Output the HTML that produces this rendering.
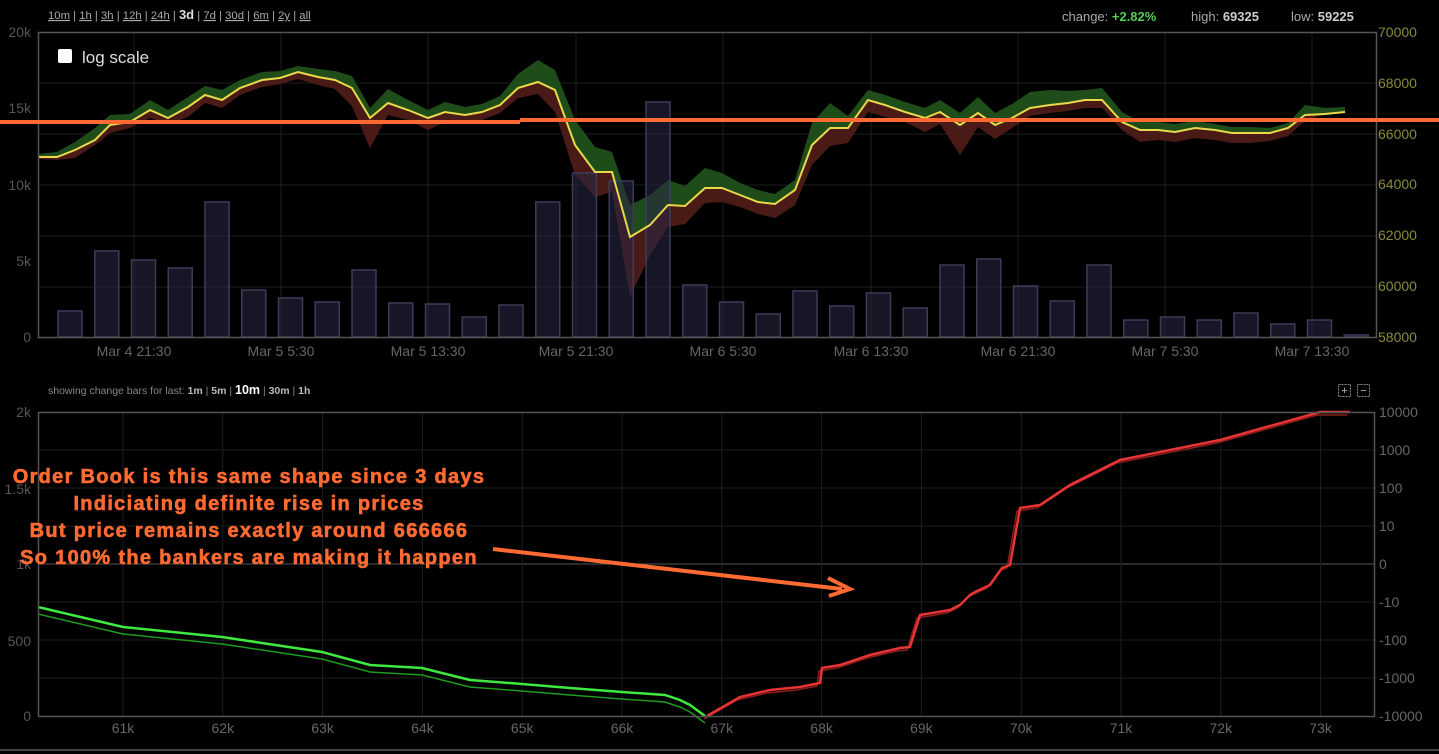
<!DOCTYPE html>
<html><head><meta charset="utf-8"><style>
html,body{margin:0;padding:0;background:#000;width:1439px;height:754px;overflow:hidden;font-family:"Liberation Sans",Arial,sans-serif}
svg{position:absolute;left:0;top:0}
text{font-family:"Liberation Sans",Arial,sans-serif}
</style></head><body>
<svg id="s" width="1439" height="754" xmlns="http://www.w3.org/2000/svg">
<rect width="1439" height="754" fill="#000"/>
<g id="grid" stroke="#1e1e1e" stroke-width="1"></g>
<g id="topg"></g>
<g id="botg"></g>
<rect x="38.5" y="32.5" width="1338" height="305" fill="none" stroke="#555" stroke-width="1.5"/>
<rect x="38.5" y="412.5" width="1336" height="304" fill="none" stroke="#555" stroke-width="1.5"/>
<line x1="0" y1="750" x2="1439" y2="750" stroke="#444" stroke-width="2"/>
<text x="48" y="19" font-size="11.3" fill="#aaa" xml:space="preserve"><tspan text-decoration="underline">10m</tspan> | <tspan text-decoration="underline">1h</tspan> | <tspan text-decoration="underline">3h</tspan> | <tspan text-decoration="underline">12h</tspan> | <tspan text-decoration="underline">24h</tspan> | <tspan fill="#ddd" font-weight="bold" font-size="13">3d</tspan> | <tspan text-decoration="underline">7d</tspan> | <tspan text-decoration="underline">30d</tspan> | <tspan text-decoration="underline">6m</tspan> | <tspan text-decoration="underline">2y</tspan> | <tspan text-decoration="underline">all</tspan></text>
<text x="1062" y="21" font-size="13" fill="#aaa">change: <tspan fill="#5c5" font-weight="bold">+2.82%</tspan></text>
<text x="1191" y="21" font-size="13" fill="#aaa">high: <tspan fill="#ccc" font-weight="bold">69325</tspan></text>
<text x="1291" y="21" font-size="13" fill="#aaa">low: <tspan fill="#ccc" font-weight="bold">59225</tspan></text>
<rect x="58" y="49" width="14" height="14" rx="2" fill="#fff"/>
<text x="82" y="63" font-size="17" fill="#ddd">log scale</text>
<g font-size="14" fill="#555" text-anchor="end">
<text x="31" y="37">20k</text><text x="31" y="113">15k</text><text x="31" y="190">10k</text><text x="31" y="266">5k</text><text x="31" y="342">0</text>
</g>
<g font-size="14" fill="#8a8a3a">
<text x="1378" y="37">70000</text><text x="1378" y="88">68000</text><text x="1378" y="139">66000</text><text x="1378" y="189">64000</text><text x="1378" y="240">62000</text><text x="1378" y="291">60000</text><text x="1378" y="342">58000</text>
</g>
<g font-size="14" fill="#666" text-anchor="middle">
<text x="134" y="356">Mar 4 21:30</text><text x="281" y="356">Mar 5 5:30</text><text x="428" y="356">Mar 5 13:30</text><text x="576" y="356">Mar 5 21:30</text><text x="723" y="356">Mar 6 5:30</text><text x="871" y="356">Mar 6 13:30</text><text x="1018" y="356">Mar 6 21:30</text><text x="1165" y="356">Mar 7 5:30</text><text x="1312" y="356">Mar 7 13:30</text>
</g>
<text x="48" y="394" font-size="10.5" fill="#888" xml:space="preserve">showing change bars for last: <tspan fill="#bbb" font-weight="bold">1m</tspan> | <tspan fill="#bbb" font-weight="bold">5m</tspan> | <tspan fill="#fff" font-weight="bold" font-size="12.5">10m</tspan> | <tspan fill="#bbb" font-weight="bold">30m</tspan> | <tspan fill="#bbb" font-weight="bold">1h</tspan></text>
<rect x="1338.5" y="384.5" width="12" height="12" fill="none" stroke="#888" stroke-dasharray="2,1"/><text x="1344.5" y="394" font-size="11" fill="#bbb" text-anchor="middle">+</text>
<rect x="1357.5" y="384.5" width="12" height="12" fill="none" stroke="#888" stroke-dasharray="2,1"/><text x="1363.5" y="394" font-size="11" fill="#bbb" text-anchor="middle">−</text>
<g font-size="14" fill="#555" text-anchor="end">
<text x="31" y="417">2k</text><text x="31" y="494">1.5k</text><text x="31" y="569">1k</text><text x="31" y="646">500</text><text x="31" y="721">0</text>
</g>
<g font-size="14" fill="#666">
<text x="1379" y="417">10000</text><text x="1379" y="455">1000</text><text x="1379" y="493">100</text><text x="1379" y="531">10</text><text x="1379" y="569">0</text><text x="1379" y="607">-10</text><text x="1379" y="645">-100</text><text x="1379" y="683">-1000</text><text x="1379" y="721">-10000</text>
</g>
<g id="xb" font-size="14" fill="#666" text-anchor="middle"></g>
<g font-size="20" font-weight="bold" fill="#ff6a33" text-anchor="middle" letter-spacing="1.3" stroke="#ff6a33" stroke-width="0.6">
<text x="249" y="483">Order Book is this same shape since 3 days</text>
<text x="249" y="510">Indiciating definite rise in prices</text>
<text x="249" y="537">But price remains exactly around 666666</text>
<text x="249" y="564">So 100% the bankers are making it happen</text>
</g>
<line x1="493" y1="549" x2="842" y2="589" stroke="#ff6a33" stroke-width="4"/>
<path d="M828,578 L850,589 L829,596" fill="none" stroke="#ff6a33" stroke-width="4"/>
<line x1="0" y1="122" x2="520" y2="122" stroke="#ff6a33" stroke-width="4"/>
<line x1="520" y1="120" x2="1439" y2="120" stroke="#ff6a33" stroke-width="4"/>
</svg>
<script>
var NS="http://www.w3.org/2000/svg";
function el(p,t,a){var e=document.createElementNS(NS,t);for(var k in a)e.setAttribute(k,a[k]);p.appendChild(e);return e;}
var g=document.getElementById('grid');
[83,134,185,236,287].forEach(function(y){el(g,'line',{x1:38,x2:1376,y1:y,y2:y});});
[134,281,428,576,723,871,1018,1165,1312].forEach(function(x){el(g,'line',{x1:x,x2:x,y1:32,y2:337});});
[450,488,526,602,640,678].forEach(function(y){el(g,'line',{x1:38,x2:1374,y1:y,y2:y});});
el(g,'line',{x1:38,x2:1374,y1:564,y2:564,stroke:'#555'});
var xb=document.getElementById('xb');
for(var i=0;i<13;i++){var x=123+i*99.8;el(g,'line',{x1:x,x2:x,y1:412,y2:716});var t=el(xb,'text',{x:x,y:733});t.textContent=(61+i)+'k';}
var tg=document.getElementById('topg');
var P=[[38,157],[57,157],[75,150],[95,140],[110,125],[130,122],[150,110],[168,118],[188,107],[205,95],[222,100],[240,88],[262,80],[280,78],[298,72],[318,77],[335,80],[352,88],[370,118],[388,103],[408,110],[428,118],[445,112],[465,115],[482,112],[500,105],[518,88],[538,82],[555,90],[575,145],[595,172],[612,172],[630,237],[650,225],[668,205],[685,206],[705,188],[722,188],[740,195],[758,202],[775,204],[795,190],[812,145],[830,128],[848,128],[868,100],[885,105],[905,112],[925,118],[940,112],[960,125],[978,113],[995,125],[1012,118],[1030,108],[1050,105],[1068,103],[1085,100],[1102,100],[1122,122],[1140,130],[1158,130],[1175,132],[1195,128],[1215,130],[1232,133],[1250,133],[1270,133],[1288,128],[1305,115],[1325,114],[1345,112]];
var U=[3,5,8,12,10,8,10,8,10,9,10,8,8,7,6,8,9,12,10,14,10,8,10,8,8,9,14,22,20,25,25,20,32,30,25,20,20,15,12,12,10,10,22,25,12,10,10,10,10,12,12,16,12,14,16,15,12,10,12,10,8,8,8,7,6,6,6,5,5,10,6,5];
var D=[2,3,8,5,8,6,8,6,10,8,8,7,7,6,7,8,9,18,30,12,10,12,10,8,8,8,10,12,22,30,25,20,60,30,22,18,15,14,12,12,14,15,20,18,15,12,12,10,14,12,30,14,14,10,8,8,8,8,8,8,12,10,10,10,10,10,10,8,8,6,0,0];
var L=P.map(function(p){return p.join(',');}).join(' ');
var gu=P.map(function(p,i){return p[0]+','+(p[1]-U[i]);}).reverse().join(' ');
var rd=P.map(function(p,i){return p[0]+','+(p[1]+D[i]);}).reverse().join(' ');
el(tg,'polygon',{points:L+' '+gu,fill:'#1f4d1a'});
el(tg,'polygon',{points:L+' '+rd,fill:'#4a1a17'});
var B=[311,251,260,268,202,290,298,302,270,303,304,317,305,202,173,181,102,285,302,314,291,306,293,308,265,259,286,301,265,320,317,320,313,324,320,335];
B.forEach(function(y,i){var x=70+i*36.75;el(tg,'rect',{x:x-12,y:y,width:24,height:337-y,fill:'rgba(40,40,70,0.55)',stroke:'#3c3c5a','stroke-width':1.5});});
el(tg,'polyline',{points:L,fill:'none',stroke:'#e8d84a','stroke-width':2});
var bg=document.getElementById('botg');
var G=[[38,607],[123,627],[222,637],[322,652],[370,665],[422,668],[470,680],[522,684],[570,688],[622,692],[665,695],[680,700],[690,705],[705,716]];
el(bg,'polyline',{points:G.map(function(p){return p[0]+','+(p[1]+7);}).join(' '),fill:'none',stroke:'#1e9a1e','stroke-width':1.5});
el(bg,'polyline',{points:G.map(function(p){return p.join(',');}).join(' '),fill:'none',stroke:'#3fe83f','stroke-width':2.5});
var R=[[707,716],[740,697],[770,690],[800,687],[820,683],[822,668],[840,665],[870,655],[900,648],[910,647],[920,615],[950,610],[960,605],[970,595],[975,592],[990,585],[1002,568],[1010,565],[1020,508],[1040,505],[1070,485],[1120,460],[1220,440],[1320,412],[1350,412]];
el(bg,'polyline',{points:R.map(function(p){return (p[0]-3)+','+(p[1]+3);}).join(' '),fill:'none',stroke:'#8a1d1d','stroke-width':1.5});
el(bg,'polyline',{points:R.map(function(p){return p.join(',');}).join(' '),fill:'none',stroke:'#e83434','stroke-width':2.5});
</script>
</body></html>
